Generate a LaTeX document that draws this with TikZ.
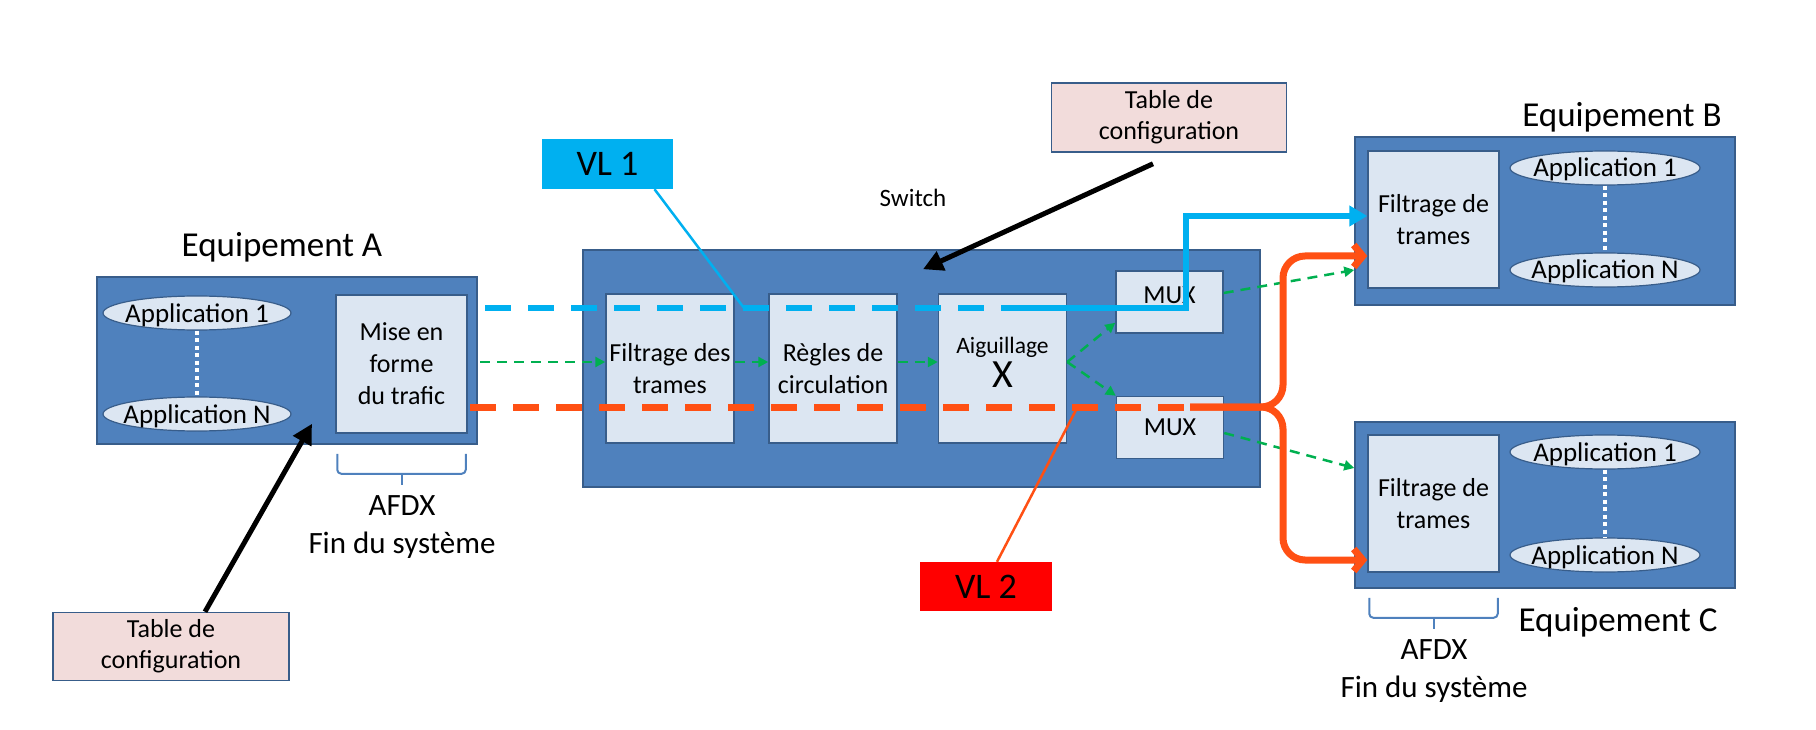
\documentclass[tikz,border=0pt]{standalone}
\usepackage{fontspec}
\setmainfont{Carlito}
\usepackage{xcolor}
\usetikzlibrary{calc, positioning, shapes.geometric, arrows.meta}

\definecolor{eqblue}{RGB}{79,129,189}
\definecolor{eqline}{RGB}{56,93,138}
\definecolor{boxfill}{RGB}{220,230,242}
\definecolor{vlcyan}{RGB}{0,176,240}
\definecolor{vlred}{RGB}{255,80,20}
\definecolor{flowgreen}{RGB}{0,176,80}
\definecolor{cfgpink}{RGB}{242,220,219}

\begin{document}
\begin{tikzpicture}[x = 1pt, y = -1pt,
  equip/.style = {draw = eqline, fill = eqblue, line width = 1.5pt, minimum width = 380pt, minimum height = 167pt},
  blk/.style = {draw = eqline, fill = boxfill, line width = 1.5pt, inner sep = 0pt, align = center, font = \fontsize{26}{32}\selectfont},
  app/.style = {ellipse, draw = eqline, fill = boxfill, line width = 1.2pt, minimum width = 188pt, minimum height = 34pt, inner sep = 0pt, text height = 18pt, text depth = 0pt, font = \fontsize{27}{32}\selectfont},
  ttl/.style = {font = \fontsize{35}{42}\selectfont},
  lbl/.style = {align = center, font = \fontsize{31}{38}\selectfont},
  cfg/.style = {draw = eqline, fill = cfgpink, line width = 1.5pt, minimum width = 235pt, minimum height = 69pt, inner sep = 0pt, align = center, font = \fontsize{26}{31}\selectfont},
  vl/.style = {minimum width = 131pt, minimum height = 50pt, inner sep = 0pt, font = \fontsize{36}{40}\selectfont},
  dots/.style = {white, line width = 3.5pt, dash pattern = on 4pt off 3.5pt},
  brc/.style = {eqblue, line width = 2pt, rounded corners = 4pt},
  grn/.style = {flowgreen, line width = 2.5pt, dash pattern = on 10pt off 7pt, -{Triangle[length = 10pt, width = 10pt]}},
  vlb/.style = {vlcyan, line width = 6.5pt},
  vlr/.style = {vlred, line width = 7pt},
  dsh/.style = {dash pattern = on 26pt off 17pt},
  cfgarrow/.style = {line width = 5pt, -{Triangle[length = 20pt, width = 20pt]}}]
\useasboundingbox (0,0) rectangle (1816,730);

% equipement A
\node[equip] (eqA) at (287,360.5) {};
\node[ttl] (titA) at (282,247) {Equipement A};
\node[app] (appA1) at (197,313) {\makebox[0pt]{Application 1}};
\node[app] (appAN) at (197,414) {\makebox[0pt]{Application N}};
\node[blk, minimum width = 131pt, minimum height = 138pt] (shpA) at (401.5,364) {Mise en\\forme\\du trafic};

% switch
\node[equip, minimum width = 677pt, minimum height = 237pt] (sw) at (921.5,368.5) {};
\node[font = \fontsize{25}{30}\selectfont] (swl) at (913,198) {Switch};
\node[blk, minimum width = 128pt, minimum height = 149pt] (filtS) at (670,368.5) {Filtrage des\\trames};
\node[blk, minimum width = 128pt, minimum height = 149pt] (regS) at (833,368.5) {Règles de\\circulation};
\node[blk, minimum width = 128pt, minimum height = 149pt, text depth = 12pt] (aigS) at (1002.5,368.5) {{\fontsize{23.5}{28}\selectfont Aiguillage}\\[2pt]{\fontsize{40}{44}\selectfont X}};
\node[blk, minimum width = 107pt, minimum height = 62pt, text height = 10pt, text depth = 8pt] (muxT) at (1169.5,302) {MUX};
\node[blk, minimum width = 107pt, minimum height = 62pt] (muxB) at (1170,427.5) {MUX};

% equipements B et C
\node[equip, minimum height = 168pt] (eqB) at (1545,221) {};
\node[ttl] (titB) at (1622,117) {Equipement B};
\node[blk, minimum width = 131pt, minimum height = 137pt] (filtB) at (1433.5,219.5) {Filtrage de\\trames};
\node[app, minimum width = 190pt] (appB1) at (1605,168) {\makebox[0pt]{Application 1}};
\node[app, minimum width = 190pt] (appBN) at (1605,270) {\makebox[0pt]{Application N}};

\node[equip, minimum height = 166pt] (eqC) at (1545,505) {};
\node[ttl] (titC) at (1618,622) {Equipement C};
\node[blk, minimum width = 131pt, minimum height = 137pt] (filtC) at (1433.5,503.5) {Filtrage de\\trames};
\node[app, minimum width = 190pt] (appC1) at (1605,452) {\makebox[0pt]{Application 1}};
\node[app, minimum width = 190pt] (appCN) at (1605,555) {\makebox[0pt]{Application N}};

\foreach \a/\b in {appA1/appAN, appB1/appBN, appC1/appCN}{
\draw[dots] (\a) -- (\b);
}

% AFDX
\foreach \n/\e in {shpA/eqA, filtC/eqC}{
\draw[brc] ($(\n.south west |- \e.south)+(2,9)$) -- ++(0,20) -| ($(\n.south east |- \e.south)+(-2,9)$);
\draw[brc] ($(\n.south |- \e.south)+(0,29)$) -- ++(0,11);
}
\node[lbl] (afdxA) at (402,527) {AFDX\\Fin du système};
\node[lbl] (afdxC) at (1434,671) {AFDX\\Fin du système};

% tables de configuration
\node[cfg] (cfgS) at (1169,117.5) {Table de\\configuration};
\node[cfg, minimum width = 236pt, minimum height = 68pt] (cfgA) at (171,646.5) {Table de\\configuration};
\draw[cfgarrow] ($(cfgS.south)+(-16,11)$) -- ($(sw.north)+(1.5,20)$);
\draw[cfgarrow] ($(cfgA.north)+(34,0)$) -- ($(eqA.south)+(25,-21)$);

% flux
\coordinate (gS) at (480,362);
\coordinate (bS) at (485,308);
\coordinate (bJ) at (1001,308);
\coordinate (bUp) at (1186,216);
\coordinate (vJ) at (744,308);
\coordinate (rS) at (470,407);
\coordinate (rJ) at (1190,407);
\coordinate (rV) at (1077,408);
\coordinate (rUp) at (1283,256);
\coordinate (rDn) at (1283,560);

\draw[grn] (gS) -- (gS -| filtS.west);
\foreach \i/\j in {filtS/regS, regS/aigS}{
\draw[grn] (gS -| \i.east) -- (gS -| \j.west);
}
\draw[grn] (gS -| aigS.east) -- ($(muxT.south west)+(0,-11)$);
\draw[grn] (gS -| aigS.east) -- (muxB.north west);
\draw[grn] ($(muxT.east)+(0,-9)$) -- ($(eqB.west)+(0,49)$);
\draw[grn] ($(muxB.east)+(0,5.5)$) -- ($(eqC.west)+(0,-37)$);

\draw[vlb, dsh] (bS) -- (bJ);
\draw[vlb, -{Triangle[length = 18pt, width = 20pt]}] (bJ) -| (bUp) -- (bUp -| filtB.west);
\draw[vlr, dsh] (rS) -- (rJ);
\draw[vlr, rounded corners = 22pt, -{Straight Barb[length = 9pt, width = 22pt]}] (rJ) -| (rUp) -- (rUp -| filtB.west);
\draw[vlr, rounded corners = 22pt, -{Straight Barb[length = 9pt, width = 22pt]}] (rJ) -| (rDn) -- (rDn -| filtC.west);

% VL
\node[vl, fill = vlcyan] (vlone) at (607.5,164) {VL 1};
\node[vl, fill = red, minimum width = 132pt, minimum height = 49pt] (vltwo) at (986,586.5) {VL 2};
\draw[vlcyan, line width = 2.5pt] ($(vlone.south)+(47,0)$) -- (vJ);
\draw[vlred, line width = 2.5pt] ($(vltwo.north)+(11,0)$) -- (rV);
\end{tikzpicture}
\end{document}
